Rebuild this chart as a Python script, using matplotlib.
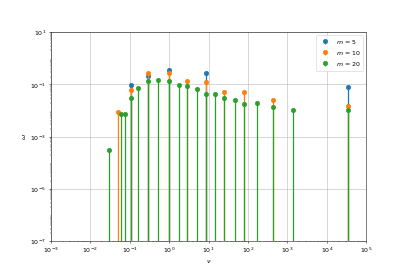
import numpy as np
import matplotlib.pyplot as plt

# m = 5
nu_5 = [0.109, 0.288, 1.0, 8.4, 34400]
w_5 = [0.092, 0.207, 0.367, 0.263, 0.081]

# m = 10
nu_10 = [0.0502, 0.109, 0.288, 1.0, 2.84, 8.4, 24.9, 81, 438, 34400]
w_10 = [0.0091, 0.060, 0.263, 0.279, 0.14, 0.12, 0.050, 0.050, 0.026, 0.015]

# m = 20
nu_20 = [0.0298, 0.0586, 0.0755, 0.109, 0.161, 0.288, 0.535, 1.0, 1.78, 2.84,
         5.18, 8.4, 14.7, 24.9, 46.2, 81, 169, 438, 1350, 34400]
w_20 = [3.0e-4, 7.6e-3, 7.1e-3, 0.030, 0.072, 0.136, 0.153, 0.14, 0.095, 0.084,
        0.068, 0.045, 0.043, 0.029, 0.026, 0.0176, 0.0199, 0.0134, 0.0102, 0.0102]

series = [(nu_5, w_5, 5, 'C0'), (nu_10, w_10, 10, 'C1'), (nu_20, w_20, 20, 'C2')]

fig, ax = plt.subplots(figsize=(9, 6), dpi=407 / 9)

for nu, w, m, c in series:
    markers, stems, base = ax.stem(nu, w, linefmt=c + '-', markerfmt=c + 'o',
                                   basefmt=' ', bottom=1e-7, label='$m$ = %d' % m)
    stems.set_linewidth(2.0)
    markers.set_markersize(7)

ax.set_xscale('log')
ax.set_yscale('log')
ax.set_xlim(1e-3, 1e5)
ax.set_ylim(1e-7, 1e1)
ax.set_xticks([10.0 ** k for k in range(-3, 6)])
ax.set_yticks([10.0 ** k for k in range(-7, 2, 2)])
ax.grid(True)
ax.set_xlabel(r'$\nu$')
ax.set_ylabel(r'$\omega$')
ax.legend(loc='upper right')

fig.savefig('out.png')
